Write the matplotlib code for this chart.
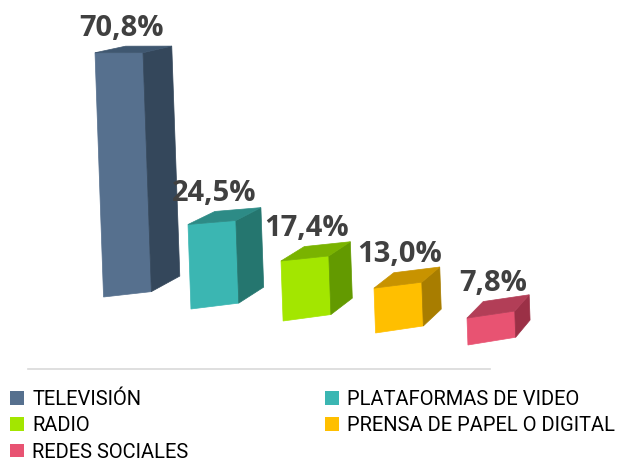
import numpy as np
import matplotlib
matplotlib.use("Agg")
import matplotlib.pyplot as plt
from matplotlib.patches import Patch

# Datos
medios = ['TELEVISIÓN', 'PLATAFORMAS DE VIDEO', 'RADIO',
          'PRENSA DE PAPEL O DIGITAL', 'REDES SOCIALES']
porcentajes = [70.8, 24.5, 17.4, 13.0, 7.8]

# Colores (frente, lado, techo)
col_frente = ['#56708E', '#3BB6B2', '#A3E600', '#FFBF00', '#E85372']
col_lado = ['#34475B', '#25766F', '#639A00', '#A87D00', '#9B3046']
col_techo = ['#3F5770', '#2D8B86', '#7AB300', '#C89300', '#B23E57']

W, H = 625, 459
fig = plt.figure(figsize=(W / 100, H / 100), dpi=100)
ax = fig.add_axes([0, 0, 1, 1])

# echelle : pixels par unite
sx, sy = 94.0, 3.45
x0_px, y0_px = 119, 297          # centre barre 0 / base barre 0
ax.set_xlim(-x0_px / sx, (W - x0_px) / sx)
ax.set_ylim(-(H - y0_px) / sy, y0_px / sy)
ax.axis('off')

def px_x(p):
    return (p - x0_px) / sx

def px_y(p):
    return (y0_px - p) / sy

# perspective
esp = 93.0 / sx                  # espacement des barres
w = 48.0 / sx                    # largeur face avant
baisse = 12.0 / sy               # la base remonte d'une barre a l'autre
vp1 = (px_x(2300), px_y(50))     # fuite horizontale
vp2 = (px_x(914), px_y(-122))    # fuite profondeur
t = 0.0376
pente = 0.035 * sy / sx          # inclinaison des aretes verticales

def fuite1(xl, yl, xr):
    return vp1[1] + (yl - vp1[1]) * (vp1[0] - xr) / (vp1[0] - xl)

def fond(p):
    return (p[0] + t * (vp2[0] - p[0]), p[1] + t * (vp2[1] - p[1]))

# ligne de sol
ax.plot([px_x(28), px_x(490)], [px_y(369), px_y(369)], color='#D9D9D9', lw=1.2)

for i, v in enumerate(porcentajes):
    c = i * esp
    base = -i * baisse
    xl, xr = c - w / 2, c + w / 2
    top = base + v
    pts = {
        'bl': (xl, base), 'br': (xr, fuite1(xl, base, xr)),
        'tl': (xl, top), 'tr': (xr, fuite1(xl, top, xr)),
    }
    pts['bbr'] = fond(pts['br'])
    pts['btr'] = fond(pts['tr'])
    pts['btl'] = fond(pts['tl'])
    # inclinaison
    P = {k: (p[0] + pente * (top - p[1]), p[1]) for k, p in pts.items()}

    def poly(keys, color):
        ax.fill([P[k][0] for k in keys], [P[k][1] for k in keys],
                color=color, lw=0.5, ec=color)

    poly(['bl', 'br', 'tr', 'tl'], col_frente[i])
    poly(['br', 'bbr', 'btr', 'tr'], col_lado[i])
    poly(['tl', 'tr', 'btr', 'btl'], col_techo[i])

    lab = f"{v:.1f}".replace('.', ',') + '%'
    ax.text(c + 2 / sx, P['btl'][1] + 18 / sy, lab, ha='center', va='center',
            fontsize=21, fontweight='bold', color='#404040', family='Open Sans')

# leyenda
orden = [0, 2, 4, 1, 3]
handles = [Patch(facecolor=col_frente[k], edgecolor='none') for k in orden]
labels = [medios[k] for k in orden]
fig.legend(handles, labels, loc='upper left', ncol=2, frameon=False,
           bbox_to_anchor=(10 / W, 1 - 390 / H), borderpad=0, borderaxespad=0,
           handlelength=0.7, handleheight=0.65, handletextpad=0.4,
           labelspacing=0.36, columnspacing=6.8,
           prop={'family': 'Roboto', 'size': 14.5})

fig.savefig('out.png', dpi=100)
